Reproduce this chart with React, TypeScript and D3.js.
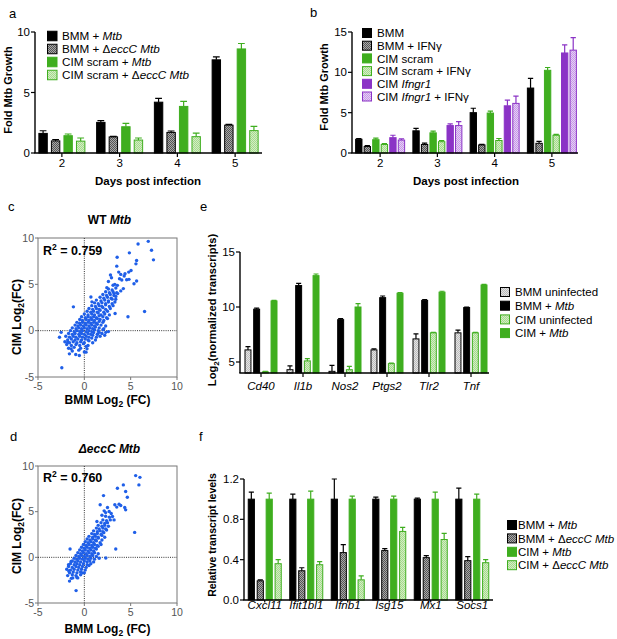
import React from 'react';
import * as d3 from 'd3';

const FONT = "'Liberation Sans', Arial, Helvetica, sans-serif";
const GREEN = '#3fae1f';
const PURPLE = '#8b33c6';
const BLUE = '#1f5fe8';

// ---- panel a: fold growth, BMM vs CIM, WT vs eccC
const days = ['2', '3', '4', '5'];
const aLabels = ['BMM + *Mtb*', 'BMM + Δ*eccC Mtb*', 'CIM scram + *Mtb*', 'CIM scram + Δ*eccC Mtb*'];
const aBmmMtb = [1.62, 2.53, 4.2, 7.7];
const aBmmMtbErr = [0.22, 0.15, 0.32, 0.25];
const aBmmEcc = [1.0, 1.33, 1.7, 2.3];
const aBmmEccErr = [0.1, 0.05, 0.12, 0.06];
const aCimMtb = [1.43, 2.17, 3.85, 8.6];
const aCimMtbErr = [0.14, 0.28, 0.42, 0.45];
const aCimEcc = [0.98, 1.07, 1.35, 1.85];
const aCimEccErr = [0.26, 0.17, 0.3, 0.35];

// ---- panel b: IFNg treatment
const bLabels = ['BMM', 'BMM + IFNγ', 'CIM scram', 'CIM scram + IFNγ', 'CIM *Ifngr1*', 'CIM *Ifngr1* + IFNγ'];
const bBmm = [1.7, 2.75, 5.0, 8.05];
const bBmmErr = [0.1, 0.3, 0.55, 1.2];
const bBmmIfn = [0.8, 1.05, 1.0, 1.2];
const bBmmIfnErr = [0.12, 0.18, 0.06, 0.25];
const bCim = [1.65, 2.5, 4.95, 10.25];
const bCimErr = [0.2, 0.22, 0.25, 0.35];
const bCimIfn = [1.05, 1.4, 1.55, 2.2];
const bCimIfnErr = [0.1, 0.15, 0.25, 0.1];
const bIfngr = [1.9, 3.4, 5.85, 12.4];
const bIfngrErr = [0.3, 0.2, 0.7, 1.0];
const bIfngrIfn = [1.6, 3.4, 6.15, 12.75];
const bIfngrIfnErr = [0.15, 0.5, 0.9, 1.55];

// ---- panel e: log2 normalized transcripts
const eGenes = ['Cd40', 'Il1b', 'Nos2', 'Ptgs2', 'Tlr2', 'Tnf'];
const eLabels = ['BMM uninfected', 'BMM + *Mtb*', 'CIM uninfected', 'CIM + *Mtb*'];
const eBmmUn = [6.1, 4.3, 4.15, 6.1, 7.1, 7.65];
const eBmmUnErr = [0.3, 0.35, 0.55, 0.1, 0.45, 0.25];
const eBmmMtb = [9.8, 11.95, 8.85, 10.85, 10.6, 9.95];
const eBmmMtbErr = [0.1, 0.2, 0.1, 0.15, 0.08, 0.05];
const eCimUn = [4.1, 5.1, 4.3, 4.85, 7.65, 7.65];
const eCimUnErr = [0.05, 0.2, 0.3, 0.05, 0.05, 0.05];
const eCimMtb = [10.55, 12.85, 10.0, 11.25, 11.35, 12.0];
const eCimMtbErr = [0.05, 0.15, 0.3, 0.05, 0.08, 0.05];

// ---- panel f: relative transcript levels
const fGenes = ['Cxcl11', 'Ifit1bl1', 'Ifnb1', 'Isg15', 'Mx1', 'Socs1'];
const fLabels = ['BMM + *Mtb*', 'BMM + Δ*eccC Mtb*', 'CIM + *Mtb*', 'CIM + Δ*eccC Mtb*'];
const fBmmMtb = [1, 1, 1, 1, 1, 1];
const fBmmMtbErr = [0.07, 0.05, 0.2, 0.02, 0.01, 0.11];
const fBmmEcc = [0.19, 0.29, 0.47, 0.49, 0.42, 0.39];
const fBmmEccErr = [0.01, 0.03, 0.08, 0.02, 0.02, 0.04];
const fCimMtb = [1, 1, 1, 1, 1, 1];
const fCimMtbErr = [0.06, 0.08, 0.03, 0.03, 0.07, 0.05];
const fCimEcc = [0.36, 0.35, 0.2, 0.68, 0.6, 0.37];
const fCimEccErr = [0.04, 0.03, 0.04, 0.04, 0.06, 0.03];

// ---- panels c/d: log2 fold change, BMM (x) vs CIM (y)
const cPoints: [number, number][] = [
  [6.9, 9.64], [5.8, 9.36], [7.25, 8.68], [7.46, 7.64], [4.86, 8.4], [3.54, 7.93], [5.64, 7.57], [5.57, 7.21],
  [3.5, 6.96], [5.04, 6.5], [4.79, 6.32], [4.39, 6.14], [3.93, 6.07], [3.71, 6.32], [2.82, 6.0], [2.93, 5.71],
  [4.57, 5.5], [4.82, 5.54], [5.64, 5.36], [5.36, 5.07], [4.04, 5.46], [3.29, 5.0], [3.57, 4.89], [2.43, 4.64],
  [4.21, 4.54], [3.93, 4.29], [3.21, 4.0], [3.39, 3.39], [6.5, 2.07], [4.71, 1.5], [3.32, 1.86], [-1.18, 2.57],
  [0.71, 3.64], [0.82, 3.11], [-2.43, -4.0], [-0.93, -2.57], [-0.54, -2.68], [0.18, -2.32], [0.29, -1.96],
  [-1.61, -2.5], [-1.43, -1.96], [-2.5, -0.18], [-2.68, -0.71], [-1.79, -1.25], [1.43, -0.36], [1.61, -0.18],
  [2.32, -0.18], [3.1, 4.9], [2.6, 5.3], [4.3, 5.9], [3.8, 5.6],
  [-1.3, -2.2], [-0.6, -2.1], [0.0, -2.3],
  [-1.7, -1.9], [-1.1, -1.8], [-0.4, -1.9], [0.2, -1.7],
  [-1.9, -1.5], [-1.4, -1.6], [-0.9, -1.5], [-0.5, -1.6], [-0.1, -1.4], [0.4, -1.6],
  [-2.1, -1.2], [-1.6, -1.3], [-1.2, -1.2], [-0.8, -1.3], [-0.4, -1.2], [0.0, -1.3], [0.5, -1.1], [0.9, -1.3],
  [-1.8, -1.0], [-1.4, -0.9], [-1.0, -1.0], [-0.7, -0.9], [-0.3, -1.0], [0.1, -0.9], [0.4, -1.0], [0.8, -0.8], [1.2, -1.0],
  [-2.0, -0.6], [-1.6, -0.7], [-1.2, -0.6], [-0.9, -0.7], [-0.5, -0.6], [-0.2, -0.7], [0.2, -0.6], [0.5, -0.7], [0.9, -0.5], [1.3, -0.7], [1.7, -0.6],
  [-1.7, -0.3], [-1.3, -0.4], [-1.0, -0.3], [-0.6, -0.4], [-0.3, -0.3], [0.0, -0.4], [0.4, -0.3], [0.7, -0.4], [1.0, -0.2], [1.4, -0.4], [1.9, -0.3], [2.2, -0.5],
  [-1.5, 0.0], [-1.1, -0.1], [-0.8, 0.0], [-0.5, -0.1], [-0.2, 0.0], [0.2, -0.1], [0.5, 0.0], [0.8, -0.1], [1.1, 0.1], [1.5, 0.0], [2.0, 0.1], [2.6, -0.1],
  [-1.3, 0.3], [-0.9, 0.2], [-0.6, 0.3], [-0.3, 0.2], [0.0, 0.3], [0.3, 0.2], [0.6, 0.3], [0.9, 0.2], [1.2, 0.4], [1.6, 0.3], [2.1, 0.2],
  [-1.0, 0.6], [-0.7, 0.5], [-0.4, 0.6], [-0.1, 0.5], [0.2, 0.6], [0.5, 0.5], [0.8, 0.6], [1.1, 0.5], [1.4, 0.7], [1.8, 0.6], [2.3, 0.5],
  [-0.8, 0.9], [-0.5, 0.8], [-0.2, 0.9], [0.1, 0.8], [0.4, 0.9], [0.7, 0.8], [1.0, 0.9], [1.3, 0.8], [1.6, 1.0], [2.0, 0.9],
  [-0.5, 1.2], [-0.2, 1.1], [0.2, 1.2], [0.5, 1.1], [0.8, 1.2], [1.1, 1.1], [1.4, 1.3], [1.7, 1.2], [2.1, 1.1], [2.5, 1.3],
  [-0.3, 1.5], [0.1, 1.4], [0.4, 1.5], [0.7, 1.4], [1.0, 1.5], [1.3, 1.4], [1.6, 1.6], [2.0, 1.5], [2.4, 1.4],
  [0.0, 1.8], [0.4, 1.7], [0.8, 1.8], [1.1, 1.7], [1.5, 1.9], [1.8, 1.7], [2.2, 1.8], [2.7, 1.7],
  [0.3, 2.1], [0.7, 2.0], [1.0, 2.1], [1.4, 2.0], [1.7, 2.2], [2.1, 2.0], [2.5, 2.1],
  [0.5, 2.4], [0.9, 2.3], [1.3, 2.4], [1.6, 2.3], [2.0, 2.5], [2.3, 2.3], [2.8, 2.4],
  [0.8, 2.7], [1.2, 2.6], [1.6, 2.7], [1.9, 2.6], [2.3, 2.8], [2.7, 2.6], [3.1, 2.7],
  [1.1, 3.0], [1.5, 2.9], [1.9, 3.0], [2.3, 2.9], [2.6, 3.1], [3.0, 2.9],
  [1.3, 3.3], [1.8, 3.2], [2.2, 3.3], [2.6, 3.2], [3.0, 3.4], [3.3, 3.1],
  [1.7, 3.6], [2.1, 3.5], [2.5, 3.6], [2.9, 3.5], [3.4, 3.7],
  [2.0, 3.9], [2.4, 3.8], [2.8, 3.9], [3.2, 3.8], [3.6, 4.0],
  [2.3, 4.2], [2.7, 4.1], [3.1, 4.2], [3.5, 4.1],
  [2.6, 4.5], [3.0, 4.4], [3.4, 4.6],
];

const dPoints: [number, number][] = [
  [5.54, 8.95], [6.0, 8.76], [5.89, 7.93], [4.21, 7.93], [3.57, 7.56], [4.46, 7.2], [4.64, 6.58], [2.07, 6.76],
  [3.75, 5.82], [3.29, 5.75], [3.5, 5.5], [3.93, 5.67], [4.36, 5.45], [4.46, 5.2], [1.71, 5.75], [2.5, 5.45],
  [2.68, 5.02], [2.14, 5.09], [3.04, 4.47], [3.21, 4.1], [5.43, 2.73], [3.39, 0.91], [2.32, -0.07], [1.36, 3.93],
  [-1.54, 0.91], [-0.89, -3.64], [-1.6, -2.6], [-1.25, -2.25], [-1.68, -1.5], [-1.71, -0.8], [-1.43, -0.45],
  [-0.71, -2.25], [-0.18, -1.7], [2.9, 4.8], [2.3, 4.9], [1.9, 4.6],
  [-1.4, -2.3], [-0.8, -2.2],
  [-1.8, -2.0], [-1.3, -1.9], [-0.9, -2.0], [-0.4, -1.9],
  [-1.6, -1.7], [-1.2, -1.6], [-0.8, -1.7], [-0.4, -1.6], [0.0, -1.7],
  [-1.9, -1.3], [-1.5, -1.4], [-1.1, -1.3], [-0.7, -1.4], [-0.3, -1.3], [0.1, -1.4],
  [-1.7, -1.0], [-1.3, -1.1], [-0.9, -1.0], [-0.6, -1.1], [-0.2, -1.0], [0.2, -1.1], [0.5, -0.9],
  [-1.5, -0.7], [-1.1, -0.8], [-0.8, -0.7], [-0.5, -0.8], [-0.1, -0.7], [0.3, -0.8], [0.7, -0.7],
  [-1.3, -0.4], [-1.0, -0.5], [-0.7, -0.4], [-0.4, -0.5], [0.0, -0.4], [0.3, -0.5], [0.6, -0.4], [1.0, -0.5],
  [-1.1, -0.1], [-0.8, -0.2], [-0.5, -0.1], [-0.2, -0.2], [0.1, -0.1], [0.4, -0.2], [0.7, -0.1], [1.1, -0.2], [1.6, -0.1],
  [-0.9, 0.2], [-0.6, 0.1], [-0.3, 0.2], [0.0, 0.1], [0.3, 0.2], [0.6, 0.1], [0.9, 0.2], [1.3, 0.1],
  [-0.7, 0.5], [-0.4, 0.4], [-0.1, 0.5], [0.2, 0.4], [0.5, 0.5], [0.8, 0.4], [1.1, 0.5], [1.5, 0.4],
  [-0.5, 0.8], [-0.2, 0.7], [0.1, 0.8], [0.4, 0.7], [0.7, 0.8], [1.0, 0.7], [1.3, 0.9],
  [-0.3, 1.1], [0.0, 1.0], [0.3, 1.1], [0.6, 1.0], [0.9, 1.1], [1.2, 1.0], [1.5, 1.2],
  [-0.1, 1.4], [0.2, 1.3], [0.5, 1.4], [0.8, 1.3], [1.1, 1.4], [1.4, 1.3], [1.8, 1.4],
  [0.1, 1.7], [0.4, 1.6], [0.7, 1.7], [1.0, 1.6], [1.3, 1.8], [1.7, 1.6],
  [0.3, 2.0], [0.6, 1.9], [0.9, 2.0], [1.2, 1.9], [1.5, 2.1], [1.9, 1.9],
  [0.5, 2.3], [0.9, 2.2], [1.2, 2.3], [1.5, 2.2], [1.9, 2.4], [2.2, 2.2],
  [0.8, 2.6], [1.1, 2.5], [1.4, 2.6], [1.8, 2.5], [2.1, 2.7],
  [1.0, 2.9], [1.4, 2.8], [1.7, 2.9], [2.0, 2.8], [2.4, 3.0],
  [1.3, 3.2], [1.6, 3.1], [2.0, 3.2], [2.3, 3.1],
  [1.5, 3.5], [1.9, 3.4], [2.2, 3.5], [2.6, 3.4],
  [1.8, 3.8], [2.2, 3.7], [2.5, 3.8],
  [2.0, 4.1], [2.4, 4.0], [2.8, 4.1],
  [2.3, 4.5], [2.7, 4.4],
];
const scatterTicks = [-5, 0, 5, 10];

type Style = { fill: string; stroke: string };
const sBlack: Style = { fill: '#000', stroke: '#000' };
const sGray: Style = { fill: 'url(#patGray)', stroke: '#000' };
const sLightGray: Style = { fill: 'url(#patLightGray)', stroke: '#000' };
const sGreen: Style = { fill: GREEN, stroke: GREEN };
const sLightGreen: Style = { fill: 'url(#patLightGreen)', stroke: GREEN };
const sPurple: Style = { fill: PURPLE, stroke: PURPLE };
const sLightPurple: Style = { fill: 'url(#patLightPurple)', stroke: PURPLE };

// "*...*" marks italic runs
const rich = (s: string) =>
  s.split('*').map((t, i) => (
    <tspan key={i} fontStyle={i % 2 ? 'italic' : 'normal'}>{t}</tspan>
  ));

interface BarProps {
  cats: string[];
  values: number[][];
  errors: number[][];
  styles: Style[];
  band: [number, number];
  axis: [number, number];
  base: number;
  top: number;
  domain: [number, number];
  ticks: number[];
  fmt?: (v: number) => string;
  groupW: number;
  pad: number;
  italic?: boolean;
  labelY: number;
  tickLen?: number;
}

const BarPanel: React.FC<BarProps> = p => {
  const x = d3.scaleBand<string>().domain(p.cats).range(p.band);
  const inner = d3
    .scaleBand<number>()
    .domain(d3.range(p.values.length))
    .range([-p.groupW / 2, p.groupW / 2])
    .paddingInner(p.pad);
  const y = d3.scaleLinear().domain(p.domain).range([p.base, p.top]);
  const bw = inner.bandwidth();
  const center = (c: string) => (x(c) as number) + x.bandwidth() / 2;
  const fmt = p.fmt || ((v: number) => String(v));
  const tl = p.tickLen ?? 4;

  return (
    <g>
      {p.values.map((vals, s) =>
        vals.map((v, i) => {
          const left = center(p.cats[i]) + (inner(s) as number);
          const st = p.styles[s];
          const yTop = y(v);
          const yErr = y(v + p.errors[s][i]);
          const mid = left + bw / 2;
          const cap = bw * 0.36;
          return (
            <g key={`${s}-${i}`}>
              <path
                d={`M${mid},${yTop}V${yErr}M${mid - cap},${yErr}H${mid + cap}`}
                stroke={st.stroke}
                strokeWidth={1.2}
                fill="none"
              />
              <rect
                x={left + 0.5}
                y={yTop}
                width={bw - 1}
                height={Math.max(0, p.base - yTop)}
                fill={st.fill}
                stroke={st.stroke}
                strokeWidth={1}
              />
            </g>
          );
        })
      )}
      {/* y axis */}
      <line x1={p.axis[0]} x2={p.axis[0]} y1={p.base} y2={y(p.domain[1])} stroke="#000" strokeWidth={1.4} />
      {p.ticks.map(t => (
        <g key={t}>
          <line x1={p.axis[0] - 4} x2={p.axis[0]} y1={y(t)} y2={y(t)} stroke="#000" strokeWidth={1.2} />
          <text x={p.axis[0] - 5} y={y(t)} dy="0.36em" textAnchor="end" fontSize={11.5}>
            {fmt(t)}
          </text>
        </g>
      ))}
      {/* x axis */}
      <line x1={p.axis[0] - 0.7} x2={p.axis[1]} y1={p.base} y2={p.base} stroke="#000" strokeWidth={1.4} />
      {p.cats.map(c => (
        <g key={c}>
          <line x1={center(c)} x2={center(c)} y1={p.base} y2={p.base + tl} stroke="#000" strokeWidth={1.2} />
          <text
            x={center(c)}
            y={p.labelY}
            textAnchor="middle"
            fontSize={11.5}
            fontStyle={p.italic ? 'italic' : 'normal'}
          >
            {c}
          </text>
        </g>
      ))}
    </g>
  );
};

interface LegendProps {
  x: number;
  y0: number;
  step: number;
  labels: string[];
  styles: Style[];
  size: number;
  textX: number;
  fontSize: number;
}

const Legend: React.FC<LegendProps> = ({ x, y0, step, labels, styles, size, textX, fontSize }) => (
  <g>
    {labels.map((l, i) => (
      <g key={l}>
        <rect
          x={x + 0.5}
          y={y0 + i * step - size / 2 + 0.5}
          width={size - 1}
          height={size - 1}
          fill={styles[i].fill}
          stroke={styles[i].stroke}
          strokeWidth={1}
        />
        <text x={textX} y={y0 + i * step} dy="0.36em" fontSize={fontSize}>
          {rich(l)}
        </text>
      </g>
    ))}
  </g>
);

interface ScatterProps {
  pts: [number, number][];
  left: number;
  right: number;
  top: number;
  bottom: number;
  title: React.ReactNode;
  titleY: number;
  r2: string;
  r2Y: number;
  xTitleY: number;
  yTitleY: number;
}

const Scatter: React.FC<ScatterProps> = p => {
  const x = d3.scaleLinear().domain([-5, 10]).range([p.left, p.right]);
  const y = d3.scaleLinear().domain([-5, 10]).range([p.bottom, p.top]);
  const cx = (p.left + p.right) / 2;
  return (
    <g>
      <text x={cx + 2} y={p.titleY} textAnchor="middle" fontSize={12} fontWeight="bold">
        {p.title}
      </text>
      <rect x={p.left} y={p.top} width={p.right - p.left} height={p.bottom - p.top} fill="none" stroke="#777" strokeWidth={1} />
      <line x1={x(0)} x2={x(0)} y1={p.top} y2={p.bottom} stroke="#333" strokeWidth={1} strokeDasharray="1,1.2" />
      <line x1={p.left} x2={p.right} y1={y(0)} y2={y(0)} stroke="#333" strokeWidth={1} strokeDasharray="1,1.2" />
      {p.pts.map(([a, b], i) => (
        <circle key={i} cx={x(a)} cy={y(b)} r={1.7} fill={BLUE} />
      ))}
      {scatterTicks.map(t => (
        <g key={t}>
          <line x1={x(t)} x2={x(t)} y1={p.bottom} y2={p.bottom + 3} stroke="#777" />
          <text x={x(t)} y={p.bottom + 12.5} textAnchor="middle" fontSize={10.5} fill="#555">
            {t}
          </text>
          <line x1={p.left - 3} x2={p.left} y1={y(t)} y2={y(t)} stroke="#777" />
          <text x={p.left - 4} y={y(t)} dy="0.36em" textAnchor="end" fontSize={10.5} fill="#555">
            {t}
          </text>
        </g>
      ))}
      <text x={p.left + 5} y={p.r2Y} fontSize={12.5} fontWeight="bold">
        R<tspan dy={-5} fontSize={8.5}>2</tspan>
        <tspan dy={5}> = {p.r2}</tspan>
      </text>
      <text x={cx} y={p.xTitleY} textAnchor="middle" fontSize={12} fontWeight="bold">
        BMM Log<tspan dy={3} fontSize={8.5}>2</tspan>
        <tspan dy={-3}> (FC)</tspan>
      </text>
      <text transform={`translate(21,${p.yTitleY}) rotate(-90)`} textAnchor="middle" fontSize={12} fontWeight="bold">
        CIM Log<tspan dy={3} fontSize={8.5}>2</tspan>
        <tspan dy={-3}>(FC)</tspan>
      </text>
    </g>
  );
};

const pattern = (id: string, base: string, dot: string) => (
  <pattern id={id} width={2} height={2} patternUnits="userSpaceOnUse">
    <rect width={2} height={2} fill={base} />
    <rect width={1} height={1} fill={dot} />
    <rect x={1} y={1} width={1} height={1} fill={dot} />
  </pattern>
);

const App: React.FC = () => {
  const aStyles = [sBlack, sGray, sGreen, sLightGreen];
  const bStyles = [sBlack, sGray, sGreen, sLightGreen, sPurple, sLightPurple];
  const eStyles = [sLightGray, sBlack, sLightGreen, sGreen];
  const fStyles = [sBlack, sGray, sGreen, sLightGreen];

  return (
    <svg
      width={617}
      height={639}
      style={{ position: 'absolute', left: 0, top: 0, background: '#fff' }}
      fontFamily={FONT}
    >
      <defs>
        {pattern('patGray', '#a8a8a8', '#555')}
        {pattern('patLightGray', '#e4e4e4', '#bcbcbc')}
        {pattern('patLightGreen', '#d2eec3', '#a6d98e')}
        {pattern('patLightPurple', '#e6cdf6', '#c69be6')}
      </defs>

      {/* panel letters */}
      <text x={9} y={18} fontSize={13}>a</text>
      <text x={310} y={17} fontSize={13}>b</text>
      <text x={8} y={211} fontSize={13}>c</text>
      <text x={200} y={211} fontSize={13}>e</text>
      <text x={10} y={441} fontSize={13}>d</text>
      <text x={199} y={441} fontSize={13}>f</text>

      {/* a */}
      <BarPanel
        cats={days}
        values={[aBmmMtb, aBmmEcc, aCimMtb, aCimEcc]}
        errors={[aBmmMtbErr, aBmmEccErr, aCimMtbErr, aCimEccErr]}
        styles={aStyles}
        band={[33, 264]}
        axis={[35, 262]}
        base={153}
        top={32}
        domain={[0, 10]}
        ticks={[0, 5, 10]}
        groupW={47}
        pad={0.25}
        labelY={167}
      />
      <Legend x={47} y0={36} step={13} labels={aLabels} styles={aStyles} size={10.5} textX={62} fontSize={11.7} />
      <text transform="translate(12,90) rotate(-90)" textAnchor="middle" fontSize={11} fontWeight="bold">
        Fold Mtb Growth
      </text>
      <text x={148} y={185} textAnchor="middle" fontSize={11.5} fontWeight="bold">
        Days post infection
      </text>

      {/* b */}
      <BarPanel
        cats={days}
        values={[bBmm, bBmmIfn, bCim, bCimIfn, bIfngr, bIfngrIfn]}
        errors={[bBmmErr, bBmmIfnErr, bCimErr, bCimIfnErr, bIfngrErr, bIfngrIfnErr]}
        styles={bStyles}
        band={[351.5, 580.5]}
        axis={[352, 578]}
        base={153}
        top={32}
        domain={[0, 15]}
        ticks={[0, 5, 10, 15]}
        groupW={50}
        pad={0.14}
        labelY={167}
      />
      <Legend x={362} y0={33} step={12.7} labels={bLabels} styles={bStyles} size={10} textX={377} fontSize={11.6} />
      <text transform="translate(328,87) rotate(-90)" textAnchor="middle" fontSize={11} fontWeight="bold">
        Fold Mtb Growth
      </text>
      <text x={466} y={185} textAnchor="middle" fontSize={11.5} fontWeight="bold">
        Days post infection
      </text>

      {/* c */}
      <Scatter
        pts={cPoints}
        left={38}
        right={177}
        top={238}
        bottom={377}
        title={rich('WT *Mtb*')}
        titleY={224}
        r2="0.759"
        r2Y={255}
        xTitleY={404}
        yTitleY={317}
      />

      {/* d */}
      <Scatter
        pts={dPoints}
        left={38}
        right={177}
        top={466}
        bottom={603}
        title={<tspan fontStyle="italic">ΔeccC Mtb</tspan>}
        titleY={453}
        r2="0.760"
        r2Y={482}
        xTitleY={633}
        yTitleY={536}
      />

      {/* e */}
      <BarPanel
        cats={eGenes}
        values={[eBmmUn, eBmmMtb, eCimUn, eCimMtb]}
        errors={[eBmmUnErr, eBmmMtbErr, eCimUnErr, eCimMtbErr]}
        styles={eStyles}
        band={[240, 492]}
        axis={[240, 489]}
        base={373}
        top={252}
        domain={[4, 15]}
        ticks={[5, 10, 15]}
        groupW={33}
        pad={0.2}
        italic
        labelY={390}
      />
      <Legend x={500} y0={292} step={13.7} labels={eLabels} styles={eStyles} size={10} textX={515} fontSize={11.5} />
      <text transform="translate(216,310) rotate(-90)" textAnchor="middle" fontSize={11.2} fontWeight="bold">
        Log<tspan dy={3} fontSize={8}>2</tspan>
        <tspan dy={-3}>(normalized transcripts)</tspan>
      </text>

      {/* f */}
      <BarPanel
        cats={fGenes}
        values={[fBmmMtb, fBmmEcc, fCimMtb, fCimEcc]}
        errors={[fBmmMtbErr, fBmmEccErr, fCimMtbErr, fCimEccErr]}
        styles={fStyles}
        band={[244, 493]}
        axis={[244, 493]}
        base={600}
        top={479}
        domain={[0, 1.2]}
        ticks={[0, 0.4, 0.8, 1.2]}
        fmt={d3.format('.1f')}
        groupW={34}
        pad={0.2}
        italic
        labelY={609}
        tickLen={2.5}
      />
      <Legend x={507} y0={525} step={13.4} labels={fLabels} styles={fStyles} size={10} textX={518} fontSize={11.5} />
      <text transform="translate(216,535) rotate(-90)" textAnchor="middle" fontSize={10.5} fontWeight="bold">
        Relative transcript levels
      </text>
    </svg>
  );
};

export default App;
